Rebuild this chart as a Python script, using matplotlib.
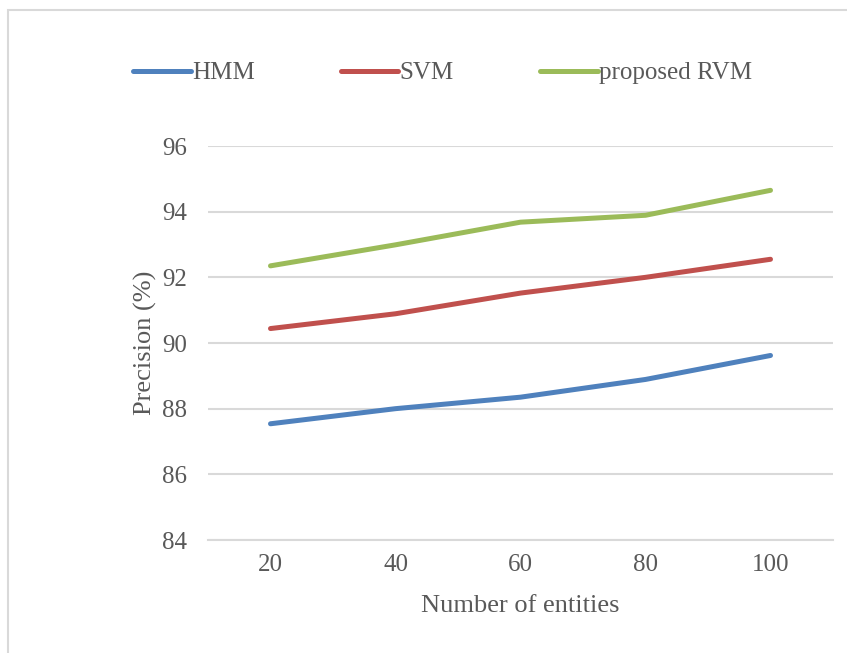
import matplotlib.pyplot as plt
from matplotlib.patches import Rectangle

plt.rcParams['font.family'] = ['Liberation Serif', 'DejaVu Serif']

entities = ['20', '40', '60', '80', '100']
hmm = [87.54, 88.0, 88.35, 88.89, 89.62]
svm = [90.44, 90.89, 91.52, 92.0, 92.55]
rvm = [92.35, 92.99, 93.68, 93.89, 94.65]
series = [('HMM', hmm, '#4F81BD'), ('SVM', svm, '#C0504D'), ('proposed RVM', rvm, '#9BBB59')]

grey_text = '#595959'
grid_col = '#D9D9D9'

fig = plt.figure(figsize=(8.47, 6.53), dpi=100)
ax = fig.add_axes([208 / 847, 1 - 540 / 653, 625 / 847, 394 / 653])

x = range(len(entities))
for name, vals, col in series:
    ax.plot(x, vals, color=col, lw=3.6, solid_capstyle='round', solid_joinstyle='round', label=name)

ax.set_xlim(-0.5, len(entities) - 0.5)
ax.set_ylim(84, 96)
ax.set_yticks(range(84, 97, 2))
ax.set_xticks(list(x))
ax.set_xticklabels(entities)
ax.yaxis.grid(True, color=grid_col, lw=1.5)
ax.set_axisbelow(True)
for s in ['top', 'right', 'left']:
    ax.spines[s].set_visible(False)
ax.spines['bottom'].set_color(grid_col)
ax.spines['bottom'].set_linewidth(1.5)
ax.tick_params(axis='both', length=0, labelsize=18, labelcolor=grey_text)
ax.tick_params(axis='y', pad=15)
ax.tick_params(axis='x', pad=10)

ax.set_xlabel('Number of entities', fontsize=19, color=grey_text, labelpad=14)
ax.set_ylabel('Precision (%)', fontsize=19, color=grey_text, labelpad=4)

fig.legend(loc='center left', bbox_to_anchor=(133 / 847, 1 - 73 / 653), ncol=3, frameon=False,
           fontsize=18, labelcolor=grey_text, handlelength=2.3, handletextpad=0.05,
           columnspacing=3.45, borderaxespad=0, borderpad=0)

# chart frame
fig.patches.append(Rectangle((8 / 847, -0.05), 1.05, 1 - 10 / 653 + 0.05, transform=fig.transFigure,
                             fill=False, edgecolor=grid_col, lw=1.5))

fig.savefig('out.png', dpi=100)
